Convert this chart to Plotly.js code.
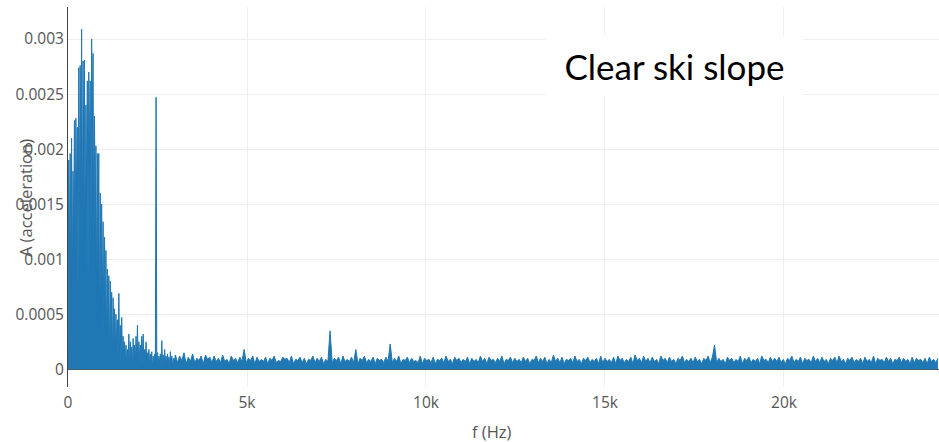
<!DOCTYPE html>
<html>
<head>
<meta charset="utf-8">
<script src="https://cdn.plot.ly/plotly-3.0.1.min.js"></script>
<style>html,body{margin:0;padding:0;background:#fff;}#chart{width:939px;height:442px;}</style>
</head>
<body>
<div id="chart"></div>
<script>
// Spectrum amplitudes, in units of 1e-5 (acceleration)
// Low-frequency part: bins every 20 Hz from 0 Hz
var lowStartHz = 0;
var lowStepHz = 20;
var lowAmp = [
  5,190,90,196,120,210,70,180,130,226,
  100,228,150,220,60,274,140,276,180,309,
  110,280,200,281,90,240,160,262,70,270,
  190,262,100,300,210,287,80,230,140,203,
  60,196,110,196,40,160,70,150,50,134,
  30,120,50,108,15,91,40,85,10,80,
  30,70,8,65,25,55,8,50,20,45,
  6,69,15,40,5,47,12,30,5,25,
  8,22,4,18,6,32,3,25,8,20,
  4,28,8,22,3,30,10,40,5,25,
  8,22,3,30,10,32,4,18,8,25,
  3,15,9,18,3,14,7,16,2,12,
  6,14,4,247,5,15,3,12,6,14,
  2,26,5,13,3,18,6,12,2,14,
  5,11,3,16,6,12,2,10,5,12
];
// Noise floor: bins every 60 Hz from 3000 Hz
var floorStartHz = 3000;
var floorStepHz = 60;
var floorAmp = [
  13,6,12,8,15,5,11,7,14,6,10,8,12,5,13,9,11,6,12,7,
  10,6,13,7,9,5,12,8,10,6,11,7,18,6,10,8,12,5,11,7,
  9,7,11,5,10,8,12,6,8,7,11,9,10,6,12,5,9,8,11,6,
  10,5,9,8,12,6,10,7,11,5,9,7,35,6,10,8,11,5,12,7,
  9,7,11,6,18,5,10,8,12,6,9,7,11,5,10,8,9,6,11,7,
  23,6,10,7,12,5,9,8,11,6,10,7,8,6,12,5,10,8,9,6,
  11,5,9,8,10,6,12,7,9,5,11,8,10,6,9,7,11,5,10,7,
  9,6,12,7,10,5,11,8,9,6,10,7,12,5,9,8,11,6,10,7,
  9,6,11,7,10,5,9,8,12,6,10,7,11,5,9,6,13,7,10,6,
  11,5,9,8,10,6,12,7,9,5,10,8,11,6,9,7,10,5,12,6,
  10,7,9,6,11,5,12,8,10,6,9,7,11,5,13,8,10,6,12,7,
  10,6,11,7,9,5,12,8,10,6,11,7,9,5,10,8,12,6,9,7,
  10,6,11,7,9,5,10,8,12,6,11,22,6,10,7,9,5,11,8,10,
  6,9,7,12,5,10,8,11,6,9,7,10,5,12,8,9,6,11,7,10,
  7,11,6,9,5,10,8,12,6,9,7,11,5,10,8,9,6,12,7,10,
  6,11,7,9,5,10,8,11,6,12,7,9,5,10,8,11,6,9,7,10,
  5,11,7,9,6,12,5,10,8,9,6,11,7,10,5,9,8,11,6,10,
  7,9,5,11,6,10,8,9,6,10,5,11,7,9,6,10
];
var ampUnit = 1e-5;
var annotationText = "Clear ski slope";
var xTitle = "f (Hz)";
var yTitle = "A (acceleration)";

var fx = [], fy = [];
lowAmp.forEach(function(v, i){ fx.push(lowStartHz + i*lowStepHz); fy.push(v*ampUnit); });
floorAmp.forEach(function(v, i){ fx.push(floorStartHz + i*floorStepHz); fy.push(v*ampUnit); });

var trace = {
  x: fx, y: fy, type: 'scatter', mode: 'lines',
  line: {color: '#1f77b4', width: 1},
  fill: 'tozeroy', fillcolor: '#1f77b4',
  hoverinfo: 'x+y'
};

var fam = '"Open Sans", verdana, arial, sans-serif';
var tickFont = {family: fam, size: 15.5, color: '#555'};

var layout = {
  width: 939, height: 442,
  margin: {l: 68, r: 0, t: 7, b: 55, pad: 0},
  paper_bgcolor: '#fff', plot_bgcolor: '#fff',
  showlegend: false,
  font: {family: fam, size: 15.5, color: '#555'},
  xaxis: {
    range: [0, 24330], dtick: 5000, tick0: 0,
    showgrid: true, gridcolor: '#eee', gridwidth: 1,
    zeroline: true, zerolinecolor: '#444', zerolinewidth: 1,
    showline: false, ticks: '', tickfont: tickFont,
    ticklabelstandoff: 4,
    automargin: false
  },
  yaxis: {
    range: [-0.000161, 0.003291], dtick: 0.0005, tick0: 0,
    showgrid: true, gridcolor: '#eee', gridwidth: 1,
    zeroline: true, zerolinecolor: '#555', zerolinewidth: 1,
    showline: true, linecolor: '#444', linewidth: 1,
    ticks: '', tickfont: tickFont,
    automargin: false
  },
  annotations: [
    {
      text: annotationText, xref: 'paper', yref: 'paper',
      x: 0.696, y: 0.845, xanchor: 'center', yanchor: 'middle',
      showarrow: false, bgcolor: '#ffffff', width: 255, height: 58, borderpad: 1,
      font: {family: 'Lato, "Open Sans", sans-serif', size: 35, color: '#000'}
    },
    {
      text: yTitle, xref: 'paper', yref: 'paper',
      x: -0.0494, y: 0.497, xanchor: 'center', yanchor: 'middle',
      textangle: -90, showarrow: false,
      font: {family: fam, size: 16.5, color: '#555'}
    },
    {
      text: xTitle, xref: 'paper', yref: 'paper',
      x: 0.487, y: -0.1184, xanchor: 'center', yanchor: 'middle',
      showarrow: false,
      font: {family: fam, size: 16.5, color: '#555'}
    }
  ]
};

Plotly.newPlot('chart', [trace], layout, {displayModeBar: false, staticPlot: true});
</script>
</body>
</html>
